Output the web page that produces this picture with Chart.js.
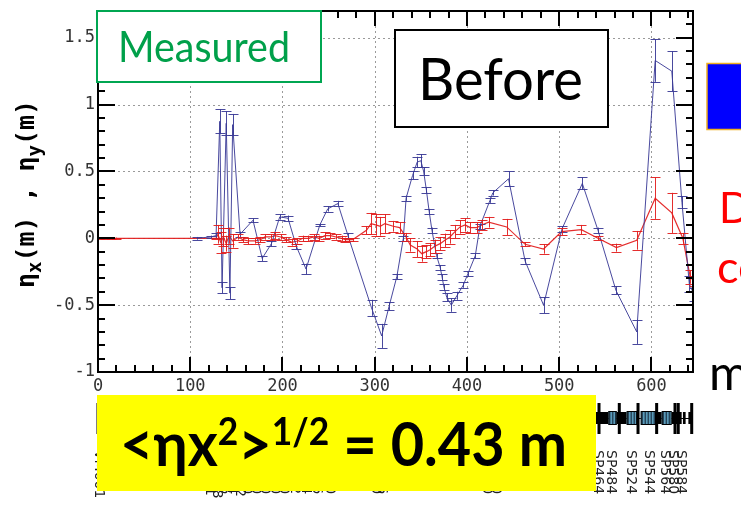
<!DOCTYPE html>
<html><head><meta charset="utf-8">
<script src="https://cdn.jsdelivr.net/npm/chart.js@4/dist/chart.umd.min.js"></script>
<style>html,body{margin:0;padding:0;background:#fff;overflow:hidden}#wrap{position:relative;width:741px;height:505px}</style>
</head><body><div id="wrap"><canvas id="c" width="741" height="505"></canvas></div>
<script>
// ---- data (s in m, dispersion in m) ----
const blueS = [107,122,128,132,134.5,139,143,146,154,168,178,188,197,206,215,225.5,240.5,249,260,271,296.5,307.5,315.5,324,331,334,341,346,350,353,356,359,362,367,371,373,375,378,383,389,396,401,409,414,425,428,445,463,483,503,525,542,561.5,584,604,622,633,641,646];
const blueEta = [0.00,0.01,0.02,0.875,-0.37,0.86,-0.41,0.85,0.03,0.135,-0.15,-0.04,0.16,0.15,-0.06,-0.23,0.10,0.22,0.26,0.02,-0.52,-0.73,-0.51,-0.285,0.0,0.30,0.47,0.57,0.58,0.50,0.36,0.20,0.06,-0.13,-0.22,-0.29,-0.365,-0.44,-0.50,-0.43,-0.35,-0.265,-0.13,0.09,0.285,0.34,0.445,-0.17,-0.50,0.07,0.41,0.06,-0.39,-0.70,1.33,1.25,0.27,-0.34,-0.42];
const blueErr = [0.01,0.01,0.02,0.09,0.04,0.09,0.045,0.08,0.02,0.015,0.02,0.02,0.02,0.02,0.02,0.04,0.01,0.02,0.02,0.02,0.06,0.09,0.03,0.02,0.02,0.02,0.03,0.04,0.05,0.03,0.02,0.02,0.02,0.02,0.02,0.02,0.02,0.03,0.05,0.03,0.02,0.02,0.02,0.02,0.02,0.02,0.055,0.02,0.06,0.02,0.045,0.02,0.03,0.09,0.16,0.15,0.045,0.06,0.05];

const redS = [2,8,14,20,128,130,133,136,139,142,146,152,157,163,170,176,181,187,192,198,204,210,216,222,228,234,240,246,252,258,264,268,272,276,291,296,301,306,311,320,327,334,338.5,346,351,356,360,365,371,376,381.5,387,392.5,398,403.5,410.5,416,423.5,443,463,483,502.6,524,542,562,584,604,622,634,642,646];
const redEta = [0,0,0,0,0,0.03,-0.03,0.01,-0.04,0.02,-0.02,0.01,-0.01,-0.02,-0.02,-0.01,0.01,0.01,0.02,0.01,-0.01,-0.03,-0.02,0.0,0.0,0.01,0.0,0.02,0.02,0.01,0.0,-0.01,-0.01,-0.01,0.06,0.11,0.10,0.09,0.11,0.09,0.08,0.01,-0.05,-0.08,-0.115,-0.10,-0.085,-0.06,-0.04,-0.015,0.01,0.05,0.085,0.10,0.08,0.08,0.10,0.12,0.085,-0.045,-0.08,0.05,0.065,0.0,-0.07,-0.015,0.30,0.19,0.0,-0.29,-0.32];
const redErr = [0.005,0.005,0.005,0.005,0.005,0.07,0.08,0.07,0.06,0.06,0.05,0.02,0.02,0.025,0.02,0.02,0.02,0.02,0.025,0.02,0.02,0.025,0.02,0.02,0.02,0.02,0.02,0.025,0.02,0.02,0.02,0.015,0.01,0.01,0.03,0.08,0.08,0.07,0.07,0.04,0.04,0.03,0.05,0.06,0.06,0.05,0.05,0.05,0.05,0.05,0.05,0.05,0.05,0.05,0.04,0.04,0.04,0.04,0.06,0.015,0.035,0.025,0.035,0.015,0.03,0.07,0.155,0.15,0.04,0.05,0.04];

const xTickValues = [0,100,200,300,400,500,600];
const xTickLabels = ['0','100','200','300','400','500','600'];
const yTickValues = [-1,-0.5,0,0.5,1,1.5];
const yTickLabels = ['-1','-0.5','0','0.5','1','1.5'];

// lattice (beamline elements, s in m)
const quadS = [0,543.1,565.1,585.4,605.6,625.5,629,643.6];
const dipoleFrom = [553.2,573.1,588.3,611.1];
const dipoleTo   = [562.3,584.6,604.9,621.9];
const blockFrom = [539.5,562.3,604.9,621.9,634.1,640];
const blockTo   = [553.2,573.1,611.1,632.7,637,643.9];
const labelS = [0,120,128,136,144,152,160,170,180,190,200,212,224,236,250,300,306,420,430,540.5,555,576.7,596,613.6,622.3,630.9];
const labelText = ['VM001','QF121','QD128','SP136','SP144','HV152','SP160','SP170','SP180','SP190','SP200','SP212','SP224','SP236','SP250','SP300','SP306','SP420','SP430','SP464','SP484','SP524','SP544','SP564','SP580','SP584'];

// ---- chart ----
const blue = 'rgba(58,58,150,0.92)';
const red = 'rgba(226,28,28,0.92)';

function pts(xs, ys){ return xs.map((x,i)=>({x:x,y:ys[i]})); }

const errorBars = {
  id:'errorBars',
  afterDatasetsDraw(chart){
    const ctx = chart.ctx, ys = chart.scales.y, a = chart.chartArea;
    const errs = [blueErr, redErr];
    ctx.save();
    ctx.beginPath(); ctx.rect(a.left, a.top, a.right-a.left, a.bottom-a.top); ctx.clip();
    chart.data.datasets.forEach((ds, i) => {
      const meta = chart.getDatasetMeta(i);
      ctx.strokeStyle = ds.borderColor; ctx.lineWidth = 1;
      meta.data.forEach((p, j) => {
        const e = errs[i][j]; const v = ds.data[j].y;
        const t = ys.getPixelForValue(v + e), b = ys.getPixelForValue(v - e);
        const x = Math.round(p.x) + 0.5;
        ctx.beginPath();
        ctx.moveTo(x, t); ctx.lineTo(x, b);
        ctx.moveTo(x-5, Math.round(t)+0.5); ctx.lineTo(x+5, Math.round(t)+0.5);
        ctx.moveTo(x-5, Math.round(b)+0.5); ctx.lineTo(x+5, Math.round(b)+0.5);
        ctx.stroke();
      });
    });
    ctx.restore();
  }
};

const gridPlugin = {
  id:'gridPlugin',
  beforeDatasetsDraw(chart){
    const ctx = chart.ctx, xs = chart.scales.x, ys = chart.scales.y, a = chart.chartArea;
    ctx.save();
    ctx.strokeStyle = '#9a9a9a'; ctx.lineWidth = 1; ctx.setLineDash([2,3]);
    xTickValues.forEach(v => { if (v===0) return; const x = Math.round(xs.getPixelForValue(v))+0.5;
      ctx.beginPath(); ctx.moveTo(x, a.top); ctx.lineTo(x, a.bottom); ctx.stroke(); });
    yTickValues.forEach(v => { if (v===-1) return; const y = Math.round(ys.getPixelForValue(v))+0.5;
      ctx.beginPath(); ctx.moveTo(a.left, y); ctx.lineTo(a.right, y); ctx.stroke(); });
    ctx.restore();
  }
};

function fitText(ctx, text, x, y, w, font){
  ctx.font = font; const m = ctx.measureText(text).width;
  ctx.save(); ctx.translate(x, y); ctx.scale(w/m, 1); ctx.fillText(text, 0, 0); ctx.restore();
}

const decor = {
  id:'decor',
  afterDraw(chart){
    const ctx = chart.ctx, xs = chart.scales.x, ys = chart.scales.y, a = chart.chartArea;
    ctx.save();
    // frame
    ctx.strokeStyle = '#000'; ctx.lineWidth = 2; ctx.setLineDash([]);
    ctx.strokeRect(a.left, a.top, a.right-a.left, a.bottom-a.top);
    // ticks
    ctx.lineWidth = 2;
    for (let k = 0; k <= 27; k++) {
      const v = -1 + k*0.1; const y = Math.round(ys.getPixelForValue(v));
      const major = (k % 5 === 0); const L = major ? 17 : 7;
      ctx.beginPath(); ctx.moveTo(a.left, y); ctx.lineTo(a.left+L, y);
      ctx.moveTo(a.right, y); ctx.lineTo(a.right-L, y); ctx.stroke();
    }
    for (let k = 0; k <= 32; k++) {
      const v = k*20; const x = Math.round(xs.getPixelForValue(v));
      const major = (k % 5 === 0); const L = major ? 15 : 7;
      ctx.beginPath(); ctx.moveTo(x, a.bottom); ctx.lineTo(x, a.bottom-L);
      ctx.moveTo(x, a.top); ctx.lineTo(x, a.top+L); ctx.stroke();
    }
    // tick labels
    ctx.fillStyle = '#333'; ctx.font = '17px "DejaVu Sans Mono"';
    ctx.textAlign = 'right'; ctx.textBaseline = 'middle';
    yTickValues.forEach((v,i) => ctx.fillText(yTickLabels[i], 95, ys.getPixelForValue(v)));
    ctx.textAlign = 'center';
    xTickValues.forEach((v,i) => ctx.fillText(xTickLabels[i], xs.getPixelForValue(v), 387));

    // y-axis title (rotated)
    ctx.save();
    ctx.fillStyle = '#000'; ctx.textAlign = 'left'; ctx.textBaseline = 'alphabetic';
    const parts = [['η',0,'bold 25px "DejaVu Sans Mono"'],['x',7,'bold 19px "DejaVu Sans Mono"'],['(m) , ',0,'bold 25px "DejaVu Sans Mono"'],
                   ['η',0,'bold 25px "DejaVu Sans Mono"'],['y',7,'bold 19px "DejaVu Sans Mono"'],['(m)',0,'bold 25px "DejaVu Sans Mono"']];
    let tot = 0; parts.forEach(p => { ctx.font = p[2]; tot += ctx.measureText(p[0]).width; });
    ctx.translate(34, 288); ctx.rotate(-Math.PI/2); ctx.scale(188/tot, 1);
    let cx = 0; parts.forEach(p => { ctx.font = p[2]; ctx.fillText(p[0], cx, p[1]); cx += ctx.measureText(p[0]).width; });
    ctx.restore();

    // lattice strip
    const cy = 418;
    ctx.strokeStyle = '#000'; ctx.lineWidth = 1;
    ctx.beginPath(); ctx.moveTo(xs.getPixelForValue(0), cy+0.5); ctx.lineTo(xs.getPixelForValue(645), cy+0.5); ctx.stroke();
    ctx.fillStyle = '#000';
    blockFrom.forEach((f,i) => { const x0 = xs.getPixelForValue(f), x1 = xs.getPixelForValue(blockTo[i]);
      ctx.fillRect(x0, cy-6, x1-x0, 12); });
    dipoleFrom.forEach((f,i) => { const x0 = xs.getPixelForValue(f), x1 = xs.getPixelForValue(dipoleTo[i]);
      ctx.fillStyle = '#5a9ab8'; ctx.fillRect(x0, cy-7, x1-x0, 14);
      ctx.fillStyle = '#123'; for (let x = x0+1; x < x1; x += 3) ctx.fillRect(x, cy-7, 1, 14);
      ctx.strokeStyle = '#000'; ctx.strokeRect(x0+0.5, cy-6.5, x1-x0-1, 13); });
    ctx.fillStyle = '#000';
    quadS.forEach(s => { const x = xs.getPixelForValue(s); ctx.fillRect(x-1.5, cy-15, 3, 31); });
    // element labels
    ctx.fillStyle = '#222'; ctx.font = '14px "DejaVu Sans"'; ctx.textAlign = 'left'; ctx.textBaseline = 'middle';
    labelS.forEach((s,i) => { ctx.save(); ctx.translate(xs.getPixelForValue(s)+1, 450); ctx.rotate(Math.PI/2);
      ctx.fillText(labelText[i], 0, 0); ctx.restore(); });

    // yellow box with formula
    ctx.fillStyle = '#ffff00'; ctx.fillRect(97, 395, 499, 96);
    ctx.fillStyle = '#000'; ctx.textAlign = 'left'; ctx.textBaseline = 'alphabetic';
    const F = 'bold 62px Lato, "Open Sans", "DejaVu Sans", sans-serif';
    const S = 'bold 38px Lato, "Open Sans", "DejaVu Sans", sans-serif';
    const fp = [['<ηx',F,0],['2',S,-21],['>',F,0],['1/2',S,-21],[' = 0.43 m',F,0]];
    let fw = 0; fp.forEach(p => { ctx.font = p[1]; fw += ctx.measureText(p[0]).width; });
    ctx.save(); ctx.translate(120, 466); ctx.scale(447/fw, 1);
    let fx = 0; fp.forEach(p => { ctx.font = p[1]; ctx.fillText(p[0], fx, p[2]); fx += ctx.measureText(p[0]).width; });
    ctx.restore();

    // Measured box
    ctx.fillStyle = '#fff'; ctx.fillRect(97, 11, 224, 71);
    ctx.strokeStyle = '#00a651'; ctx.lineWidth = 2; ctx.strokeRect(97, 11, 224, 71);
    ctx.fillStyle = '#00a04a';
    fitText(ctx, 'Measured', 118, 62, 172, '42px Lato, "Open Sans", sans-serif');

    // Before box
    ctx.fillStyle = '#fff'; ctx.fillRect(395, 30, 213, 97);
    ctx.strokeStyle = '#000'; ctx.lineWidth = 2; ctx.strokeRect(395, 30, 213, 97);
    ctx.fillStyle = '#000';
    fitText(ctx, 'Before', 418, 100, 165, '58px Lato, "Open Sans", sans-serif');

    // right-side fragments of the slide
    ctx.fillStyle = '#0000ff'; ctx.fillRect(707, 63, 40, 67);
    ctx.strokeStyle = '#f0b020'; ctx.lineWidth = 1.5; ctx.strokeRect(707, 63.5, 40, 66);
    ctx.fillStyle = '#ff0000';
    ctx.font = '42px Lato, "Open Sans", sans-serif'; ctx.fillText('D', 719, 223);
    ctx.font = '45px Lato, "Open Sans", sans-serif'; ctx.fillText('co', 717, 283);
    ctx.fillStyle = '#000';
    ctx.font = '49px Lato, "Open Sans", sans-serif'; ctx.fillText('m', 709, 390);
    ctx.restore();
  }
};

new Chart(document.getElementById('c'), {
  type: 'scatter',
  data: { datasets: [
    { data: pts(blueS, blueEta), borderColor: blue, backgroundColor: blue, showLine: true, borderWidth: 1, pointRadius: 0, tension: 0 },
    { data: pts(redS, redEta), borderColor: red, backgroundColor: red, showLine: true, borderWidth: 1.2, pointRadius: 0, tension: 0 }
  ]},
  options: {
    responsive: false, animation: false, devicePixelRatio: 1,
    layout: { padding: { left: 98, right: 48, top: 11, bottom: 133 } },
    scales: {
      x: { type: 'linear', min: 0, max: 645, display: false },
      y: { type: 'linear', min: -1, max: 1.7, display: false }
    },
    plugins: { legend: { display: false }, tooltip: { enabled: false } }
  },
  plugins: [gridPlugin, errorBars, decor]
});
</script>
</body></html>
